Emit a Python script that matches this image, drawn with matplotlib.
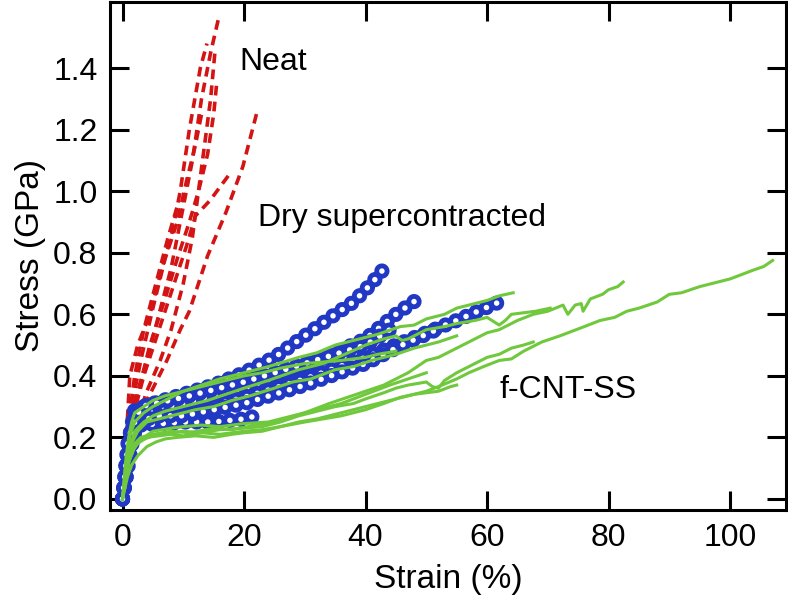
import matplotlib
matplotlib.use("Agg")
import matplotlib.pyplot as plt

plt.rcParams["font.family"] = ["Liberation Sans", "DejaVu Sans"]
plt.rcParams["lines.scale_dashes"] = False

# Neat fibres (red dashed), strain % / stress GPa
neat_curves = [
    ([0, 0.5, 1.2, 2.5, 4.5, 6.5, 8, 9.5, 11, 12.8, 13.9],
     [0, 0.15, 0.4, 0.5, 0.6, 0.75, 0.85, 1.0, 1.2, 1.4, 1.48]),
    ([0, 1, 2.5, 4, 6, 8, 10, 11.5, 13, 14.5, 15.9],
     [0, 0.2, 0.35, 0.45, 0.6, 0.75, 0.95, 1.1, 1.3, 1.45, 1.57]),
    ([0, 1.5, 4, 6.2, 8, 10, 11.5, 12.5, 13.5, 14.5, 15.2],
     [0, 0.2, 0.35, 0.45, 0.55, 0.7, 0.85, 1.0, 1.15, 1.3, 1.45]),
    ([0, 2, 4, 7.3, 9.5, 11, 14, 17, 19.8, 22.3],
     [0, 0.2, 0.32, 0.45, 0.55, 0.61, 0.79, 0.93, 1.08, 1.27]),
    ([0, 1.5, 3.5, 6, 8.5, 10.5, 12, 14.4, 17.4],
     [0, 0.25, 0.4, 0.55, 0.7, 0.82, 0.92, 0.97, 1.05]),
    ([0, 1, 3, 5, 7, 9, 10.5, 12, 13],
     [0, 0.25, 0.45, 0.62, 0.78, 0.9, 1.03, 1.15, 1.25]),
    ([0, 0.8, 2, 3.5, 5.5, 7.5, 9],
     [0, 0.22, 0.4, 0.55, 0.7, 0.85, 0.95]),
    ([0, 2, 4.5, 7, 9, 11, 12.5, 14, 15, 15.5],
     [0, 0.3, 0.5, 0.65, 0.78, 0.9, 1.0, 1.12, 1.25, 1.35]),
]

# Dry supercontracted (blue open circles)
dry_curves = [
    ([0, 0.5, 1, 2, 5, 10, 15, 20, 25, 30, 35, 38, 41, 43.5],
     [0, 0.08, 0.18, 0.29, 0.31, 0.34, 0.37, 0.41, 0.46, 0.53, 0.6, 0.64, 0.7, 0.76]),
    ([0, 1, 2, 5, 10, 20, 30, 40, 45, 48.6],
     [0, 0.17, 0.27, 0.29, 0.31, 0.36, 0.43, 0.52, 0.6, 0.65]),
    ([0, 1.5, 3, 10, 20, 30, 40, 50, 55, 62],
     [0, 0.2, 0.25, 0.28, 0.33, 0.39, 0.46, 0.54, 0.58, 0.64]),
    ([0, 1.5, 3, 10, 15, 20, 22],
     [0, 0.2, 0.24, 0.25, 0.25, 0.26, 0.27]),
    ([0, 2, 5, 10, 20, 30, 40, 46, 52.8],
     [0, 0.23, 0.27, 0.27, 0.31, 0.37, 0.44, 0.5, 0.56]),
    ([0, 1, 3, 10, 20, 30, 35, 40, 44],
     [0, 0.2, 0.3, 0.33, 0.38, 0.44, 0.47, 0.5, 0.55]),
]

# f-CNT-SS (green solid)
cnt_curves = [
    ([0, 0.5, 1, 1.8, 2.5, 4, 6, 8, 10, 13, 16, 20, 23, 26, 30, 33, 36, 40, 43, 45.7,
      48, 50, 52, 55, 57, 59.4, 62, 64, 66, 69, 72, 74, 76, 78.6, 81, 83, 85, 88, 90,
      92, 95, 97, 100, 102, 104, 105.5, 107],
     [0, 0.06, 0.12, 0.16, 0.18, 0.2, 0.205, 0.21, 0.205, 0.215, 0.21, 0.22, 0.225, 0.235,
      0.25, 0.26, 0.27, 0.29, 0.31, 0.33, 0.34, 0.35, 0.365, 0.39, 0.41, 0.43, 0.45, 0.455,
      0.48, 0.51, 0.53, 0.545, 0.56, 0.58, 0.59, 0.61, 0.62, 0.64, 0.665, 0.67, 0.69, 0.7,
      0.715, 0.73, 0.745, 0.755, 0.775]),
    ([0, 0.6, 1.2, 2, 3, 5, 8, 11, 15, 18, 22, 25, 28, 30, 34, 37, 40, 43, 45, 47, 50,
      52, 55, 57, 60, 62, 65, 67.6, 70, 72.5, 73.3, 74.5, 75.5, 75.8, 77, 79, 80, 81.5, 82.4],
     [0, 0.1, 0.15, 0.18, 0.2, 0.21, 0.22, 0.215, 0.23, 0.225, 0.24, 0.25, 0.265, 0.28,
      0.31, 0.33, 0.35, 0.37, 0.39, 0.41, 0.45, 0.46, 0.49, 0.51, 0.54, 0.55, 0.58, 0.6,
      0.61, 0.63, 0.6, 0.63, 0.635, 0.61, 0.65, 0.665, 0.68, 0.69, 0.705]),
    ([0, 0.4, 0.8, 1.3, 2, 3.5, 5, 7, 10, 13, 16, 20, 24, 29, 32, 35, 38, 42, 45.7, 48,
      50, 53, 55, 58, 60, 62, 64.3],
     [0, 0.08, 0.15, 0.21, 0.25, 0.28, 0.3, 0.32, 0.35, 0.37, 0.39, 0.41, 0.43, 0.46,
      0.475, 0.5, 0.515, 0.535, 0.56, 0.565, 0.585, 0.6, 0.62, 0.635, 0.645, 0.66, 0.67]),
    ([0, 0.5, 1, 2, 3.5, 5, 7, 10, 14, 17, 20, 24, 29, 33, 36, 40, 43, 45, 46, 47, 50,
      53, 55, 58, 60, 62, 63, 64, 66, 68, 70.4],
     [0, 0.08, 0.15, 0.22, 0.25, 0.27, 0.285, 0.3, 0.32, 0.34, 0.36, 0.385, 0.42, 0.44,
      0.465, 0.5, 0.52, 0.53, 0.515, 0.52, 0.55, 0.56, 0.57, 0.58, 0.59, 0.565, 0.58, 0.6,
      0.605, 0.61, 0.62]),
    ([0, 0.6, 1.2, 2, 3, 5, 7, 10, 13, 16, 20, 23, 26, 29, 32, 35, 38, 40, 43, 45, 47,
      50, 51, 52, 53, 55, 58, 60, 62, 64, 66, 67.6],
     [0, 0.08, 0.13, 0.17, 0.19, 0.205, 0.21, 0.22, 0.215, 0.225, 0.23, 0.235, 0.25, 0.27,
      0.285, 0.3, 0.31, 0.325, 0.345, 0.36, 0.37, 0.38, 0.365, 0.36, 0.385, 0.41, 0.44,
      0.46, 0.47, 0.49, 0.5, 0.51]),
    ([0, 0.8, 1.5, 2.5, 4, 5.5, 7, 9, 12, 15, 18, 20, 23, 26, 29, 32, 35, 38, 40, 43,
      46, 48, 50, 52, 54, 55],
     [0, 0.07, 0.11, 0.14, 0.17, 0.185, 0.195, 0.2, 0.205, 0.2, 0.21, 0.215, 0.22, 0.235,
      0.25, 0.26, 0.275, 0.29, 0.3, 0.315, 0.33, 0.34, 0.345, 0.35, 0.365, 0.37]),
    ([0, 0.5, 1, 1.5, 2, 3.5, 5, 7, 10, 13, 16, 20, 23, 26, 30, 33, 36, 40, 42, 45],
     [0, 0.12, 0.2, 0.25, 0.28, 0.3, 0.32, 0.335, 0.35, 0.365, 0.38, 0.4, 0.41, 0.425,
      0.44, 0.445, 0.45, 0.46, 0.47, 0.48]),
    ([0, 0.7, 1.5, 2.5, 4, 6, 8, 10, 12, 15, 18, 21, 25, 28, 31, 35, 38, 41, 45, 48,
      50, 52, 55],
     [0, 0.1, 0.18, 0.22, 0.25, 0.26, 0.27, 0.28, 0.29, 0.3, 0.32, 0.335, 0.36, 0.38,
      0.39, 0.42, 0.43, 0.45, 0.47, 0.49, 0.5, 0.51, 0.53]),
    ([0, 1, 2, 3.5, 5, 8, 10, 13, 16, 20, 24, 28, 32, 36, 40, 44, 47, 50],
     [0, 0.12, 0.17, 0.2, 0.22, 0.23, 0.235, 0.24, 0.235, 0.245, 0.25, 0.27, 0.29, 0.31,
      0.34, 0.37, 0.39, 0.41]),
]

x_ticks = [0, 20, 40, 60, 80, 100]
y_ticks = [0.0, 0.2, 0.4, 0.6, 0.8, 1.0, 1.2, 1.4]

RED = "#d41414"
BLUE = "#2038c4"
GREEN = "#70c83c"

fig = plt.figure(figsize=(7.88, 5.99), dpi=100)
ax = fig.add_axes([110 / 788, 89 / 599, 676 / 788, 508 / 599])

for xs, ys in neat_curves:
    ax.plot(xs, ys, color=RED, lw=2.6, dashes=(7, 4.5), zorder=2)

# open circles drawn as a ring of round dots along each curve
for xs, ys in dry_curves:
    ax.plot(xs, ys, color=BLUE, lw=11.0, dashes=(0.01, 8.0),
            dash_capstyle="round", zorder=3)
    ax.plot(xs, ys, color="white", lw=4.0, dashes=(0.01, 8.0),
            dash_capstyle="round", zorder=3)

for xs, ys in cnt_curves:
    ax.plot(xs, ys, color=GREEN, lw=2.2, zorder=4)

ax.text(19.3, 1.42, "Neat", fontsize=23, va="center", ha="left")
ax.text(22.3, 0.913, "Dry supercontracted", fontsize=23, va="center", ha="left")
ax.text(62.1, 0.354, "f-CNT-SS", fontsize=23, va="center", ha="left")

ax.set_xlim(-2.06, 109.2)
ax.set_ylim(-0.036, 1.615)
ax.set_xticks(x_ticks)
ax.set_yticks(y_ticks)
ax.set_yticklabels([f"{v:.1f}" for v in y_ticks])
ax.tick_params(direction="in", length=14, width=2.2, labelsize=23,
               top=True, right=True, pad=9)
for s in ax.spines.values():
    s.set_linewidth(2.2)

ax.set_xlabel("Strain (%)", fontsize=24, labelpad=8)
ax.set_ylabel("Stress (GPa)", fontsize=24, labelpad=5)

fig.savefig("out.png", dpi=100)
